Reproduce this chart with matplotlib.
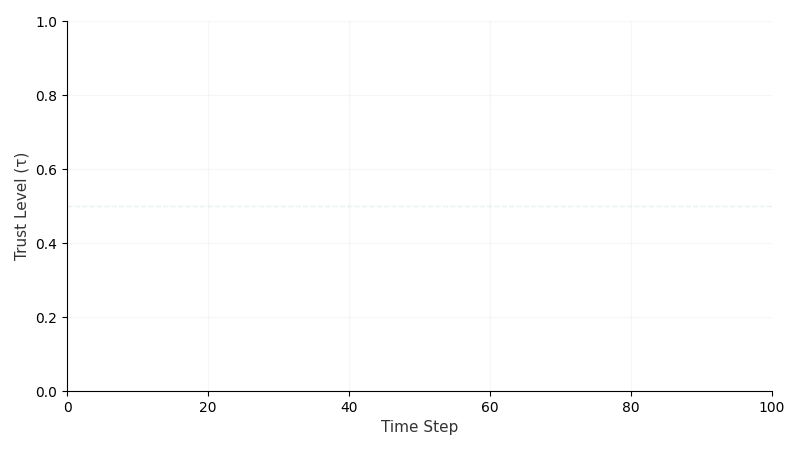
import numpy as np
from matplotlib import pyplot as plt

# the chart shows no series; the lists stay empty
time_steps = []
trust_values = []
threshold = 0.5
x_limits = [0, 100]
y_limits = [0.0, 1.0]


def main():
    fig, ax = plt.subplots(figsize=(8, 4.5), dpi=100)
    fig.subplots_adjust(left=0.084, right=0.965, top=0.953, bottom=0.131)

    ax.plot(time_steps, trust_values, color='#1f77b4', linewidth=2)
    ax.axhline(threshold, color='#c8dcdc', linestyle='--', linewidth=1, alpha=0.4)

    ax.set_xlim(*x_limits)
    ax.set_ylim(*y_limits)
    ax.grid(True, color='#eeeeee', linewidth=0.8, alpha=0.5)
    ax.set_axisbelow(True)

    ax.spines['top'].set_visible(False)
    ax.spines['right'].set_visible(False)

    ax.set_xlabel("Time Step", fontsize=11, color='#333333')
    ax.set_ylabel("Trust Level (τ)", fontsize=11, color='#333333')

    plt.savefig("out.png", dpi=100)


if __name__ == '__main__':
    main()
